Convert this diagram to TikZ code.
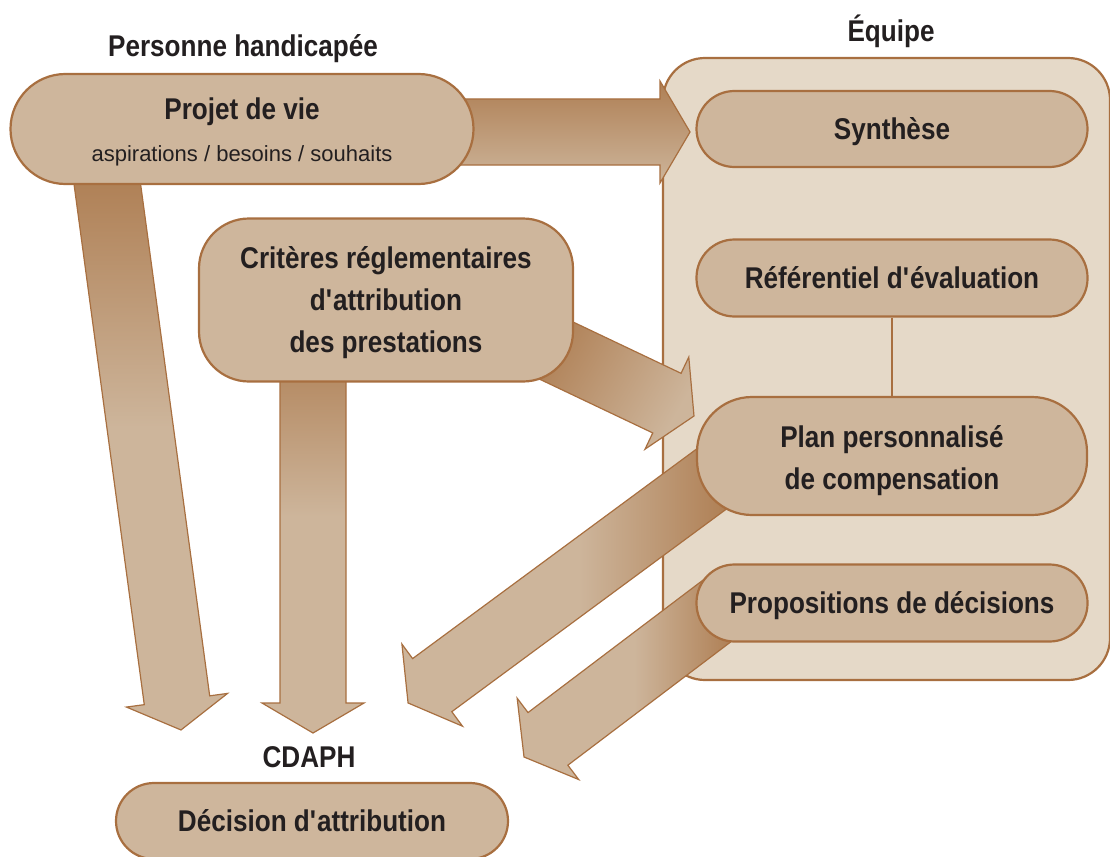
\documentclass[tikz,border=0pt]{standalone}
\usepackage{fontspec}
\setmainfont{Liberation Sans}
\newfontfamily\narrowfont{Liberation Sans}[FakeStretch=0.87]
\usetikzlibrary{calc}
\definecolor{boxfill}{HTML}{CEB69C}
\definecolor{teamfill}{HTML}{E5D9C8}
\definecolor{edge}{HTML}{A86F40}
\definecolor{arrowdark}{HTML}{A97547}
\definecolor{arrowlight}{HTML}{CDB59B}
\definecolor{ink}{HTML}{231F20}
\pgfdeclarelayer{back}
\pgfdeclarelayer{mid}
\pgfsetlayers{back,mid,main}
\newcommand{\boxfont}{\narrowfont\bfseries\fontsize{30}{42}\selectfont}
\newcommand{\subfont}{\normalfont\mdseries\fontsize{22}{26}\selectfont}
\newcommand{\topstrut}[1]{\rule{0pt}{#1}}
% block arrow: style, start, tip
\newcommand{\bigarrow}[3]{%
  \draw[flowarrow,#1] let \p1=(#2), \p2=(#3),
    \n1={atan2(\y2-\y1,\x2-\x1)}, \n2={veclen(\x2-\x1,\y2-\y1)} in
    [shift={(\p1)}, rotate=\n1]
    (0pt,-33pt) -- (\n2-30pt,-33pt) -- (\n2-30pt,-51pt) -- (\n2,0pt)
    -- (\n2-30pt,51pt) -- (\n2-30pt,33pt) -- (0pt,33pt) -- cycle;}

\begin{document}
\begin{tikzpicture}[x=1pt, y=-1pt,
  box/.style={draw=edge, line width=2.2pt, fill=boxfill, text=ink, align=center, font=\boxfont, inner sep=0pt},
  oneline/.style={text height=21.5pt, text depth=0pt},
  heading/.style={text=ink, font=\boxfont, anchor=base, inner sep=0pt},
  panel/.style={draw=edge, line width=2.2pt, fill=teamfill, rounded corners=42pt},
  flowarrow/.style={draw=edge, line width=1.2pt, line join=miter},
  link/.style={draw=edge, line width=1.6pt}]
  \useasboundingbox (0,0) rectangle (1110,856);

  % team panel
  \begin{pgfonlayer}{back}
    \node[panel, minimum width=447pt, minimum height=622pt] (equipe) at (886.5,369) {};
  \end{pgfonlayer}

  % headings
  \node[heading] (personne) at (243,57) {Personne handicapée};
  \node[heading] (equipetitle) at (891,42) {Équipe};
  \node[heading] (cdaph) at (309,767) {CDAPH};

  % boxes
  \node[box, rounded corners=55pt, minimum width=463pt, minimum height=110pt] (projet) at (242,129)
    {\topstrut{28.5pt}Projet de vie\\{\subfont aspirations / besoins / souhaits}};
  \node[box, rounded corners=50pt, minimum width=374pt, minimum height=163pt] (crit) at (386,300)
    {\topstrut{26.5pt}Critères réglementaires\\d\textquotesingle attribution\\des prestations};
  \node[box, oneline, rounded corners=38pt, minimum width=391pt, minimum height=76pt] (synth) at (892,129) {Synthèse};
  \node[box, oneline, rounded corners=38pt, minimum width=391pt, minimum height=77pt] (refer) at (892,278)
    {Référentiel d\textquotesingle évaluation};
  \node[box, rounded corners=55pt, minimum width=390pt, minimum height=118pt] (plan) at (892,456)
    {\topstrut{30.5pt}Plan personnalisé\\de compensation};
  \node[box, oneline, rounded corners=38pt, minimum width=391pt, minimum height=77pt] (propo) at (892,603)
    {Propositions de décisions};
  \node[box, oneline, rounded corners=38pt, minimum width=392pt, minimum height=76pt] (decision) at (312,821)
    {Décision d\textquotesingle attribution};

  \draw[link] (refer) -- (plan);

  % arrow ends
  \coordinate (fromprojA) at ([shift={(158,3)}]projet.center);
  \coordinate (fromprojB) at ([shift={(-142,1)}]projet.center);
  \coordinate (fromcritA) at ([shift={(-73,0)}]crit.center);
  \coordinate (fromcritB) at ([shift={(127,30)}]crit.center);
  \coordinate (fromplan) at ([shift={(40,5)}]plan.west);
  \coordinate (frompropo) at ([shift={(36,-3)}]propo.west);
  \coordinate (tosynth) at (690,132);
  \coordinate (toplan) at (694,416);
  \coordinate (todecA) at (181,730);
  \coordinate (todecB) at (313,733);
  \coordinate (todecC) at (408,703);
  \coordinate (todecD) at (524,757);

  % block arrows
  \begin{pgfonlayer}{mid}
    \bigarrow{top color=arrowdark!85!arrowlight, bottom color=arrowlight}{fromprojA}{tosynth}
    \bigarrow{top color=arrowdark, bottom color=arrowlight, middle color=arrowlight}{fromprojB}{todecA}
    \bigarrow{top color=arrowdark, bottom color=arrowlight, middle color=arrowlight}{fromcritA}{todecB}
    \bigarrow{top color=arrowdark, bottom color=arrowlight, shading angle=60}{fromcritB}{toplan}
    \bigarrow{left color=arrowlight, right color=arrowdark, middle color=arrowlight}{fromplan}{todecC}
    \bigarrow{left color=arrowlight, right color=arrowdark, middle color=arrowlight}{frompropo}{todecD}
  \end{pgfonlayer}
\end{tikzpicture}
\end{document}
